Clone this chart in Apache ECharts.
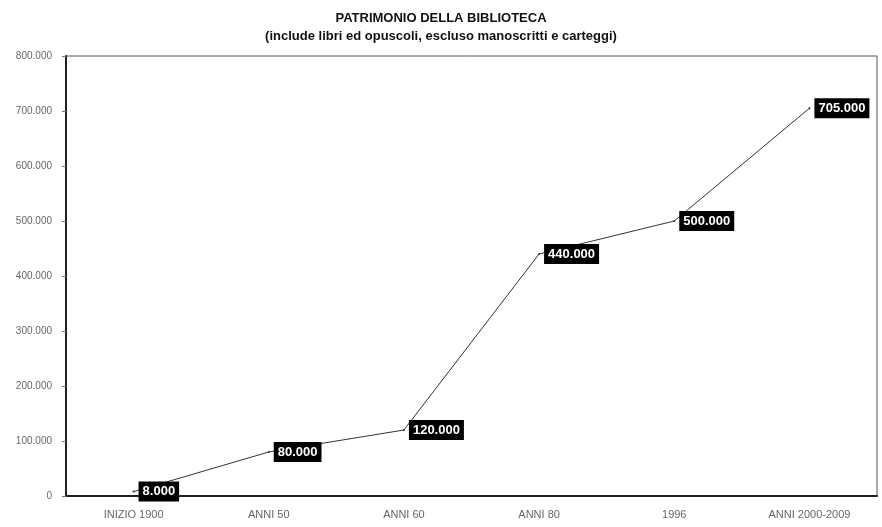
<!DOCTYPE html>
<html>
<head>
<meta charset="utf-8">
<script src="https://cdn.jsdelivr.net/npm/echarts@6/dist/echarts.min.js"></script>
<style>
  html, body { margin: 0; padding: 0; background: #fff; }
  #chart { width: 882px; height: 527px; }
</style>
</head>
<body>
<div id="chart"></div>
<script>
// Periods and total holdings (books and pamphlets)
const periods = ['INIZIO 1900', 'ANNI 50', 'ANNI 60', 'ANNI 80', '1996', 'ANNI 2000-2009'];
const holdings = [8000, 80000, 120000, 440000, 500000, 705000];
const yTicks = { min: 0, max: 800000, step: 100000 };

// Italian thousands separator: 705000 -> "705.000"
function fmt(v) {
  return String(v).replace(/\B(?=(\d{3})+(?!\d))/g, '.');
}

const chart = echarts.init(document.getElementById('chart'), null, { renderer: 'canvas' });

chart.setOption({
  backgroundColor: '#ffffff',
  animation: false,
  title: {
    text: 'PATRIMONIO DELLA BIBLIOTECA',
    subtext: '(include libri ed opuscoli, escluso manoscritti e carteggi)',
    left: 'center',
    top: 7,
    itemGap: 5,
    textStyle: { fontFamily: 'Liberation Sans', fontSize: 13, fontWeight: 'bold', color: '#111' },
    subtextStyle: { fontFamily: 'Liberation Sans', fontSize: 13, fontWeight: 'bold', color: '#111' }
  },
  grid: {
    left: 66, right: 5, top: 56, bottom: 31,
    show: true,
    borderColor: '#555',
    borderWidth: 1
  },
  xAxis: {
    type: 'category',
    data: periods,
    boundaryGap: true,
    axisLine: { lineStyle: { color: '#222', width: 2 } },
    axisTick: { show: false },
    axisLabel: {
      fontFamily: 'Liberation Sans', fontSize: 11, color: '#666', margin: 13
    }
  },
  yAxis: {
    type: 'value',
    min: yTicks.min,
    max: yTicks.max,
    interval: yTicks.step,
    axisLine: { show: true, lineStyle: { color: '#222', width: 2 } },
    axisTick: { show: true, length: 4, lineStyle: { color: '#777' } },
    splitLine: { show: false },
    axisLabel: {
      fontFamily: 'Liberation Sans', fontSize: 10, color: '#666', margin: 14,
      formatter: fmt
    }
  },
  series: [{
    type: 'line',
    data: holdings,
    symbol: 'circle',
    symbolSize: 2,
    itemStyle: { color: '#333' },
    lineStyle: { color: '#333', width: 1 },
    label: {
      show: true,
      position: 'right',
      distance: 4,
      formatter: p => fmt(p.value),
      backgroundColor: '#000',
      color: '#fff',
      fontFamily: 'Liberation Sans',
      fontWeight: 'bold',
      fontSize: 13,
      padding: [4, 4, 3, 4]
    }
  }]
});
</script>
</body>
</html>
